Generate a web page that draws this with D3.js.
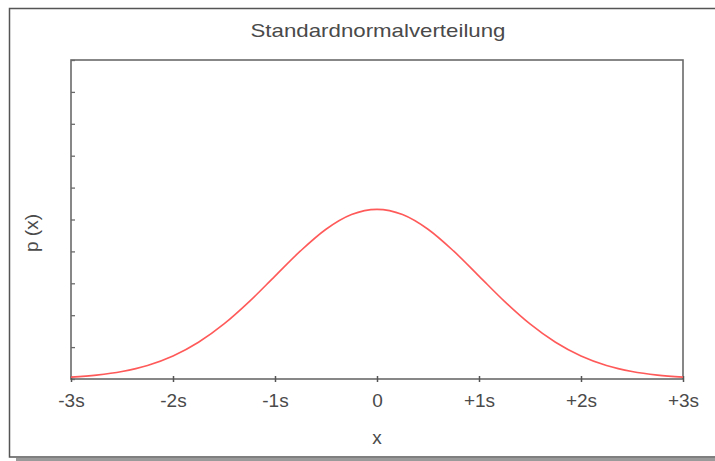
<!DOCTYPE html>
<html><head><meta charset="utf-8">
<script src="https://cdn.jsdelivr.net/npm/d3@7"></script>
<style>
html,body{margin:0;padding:0;background:#fff;}
svg{display:block;}
text{font-family:"Liberation Sans",Arial,sans-serif;fill:#4a4a4a;}
</style></head><body>
<script>
// Data (in units of s)
const xValues = [-3,-2.75,-2.5,-2.25,-2,-1.75,-1.5,-1.25,-1,-0.75,-0.5,-0.25,0,0.25,0.5,0.75,1,1.25,1.5,1.75,2,2.25,2.5,2.75,3];
const pValues = [0.0044,0.0091,0.0175,0.0317,0.0540,0.0863,0.1295,0.1826,0.2420,0.3011,0.3521,0.3867,0.3989,0.3867,0.3521,0.3011,0.2420,0.1826,0.1295,0.0863,0.0540,0.0317,0.0175,0.0091,0.0044];
const xTickValues = [-3,-2,-1,0,1,2,3];
const xTickLabels = ["-3s","-2s","-1s","0","+1s","+2s","+3s"];
const yTickValues = [0,0.075,0.15,0.225,0.3,0.375,0.45,0.525,0.6,0.675,0.75];
const title = "Standardnormalverteilung";
const xTitle = "x";
const yTitle = "p (x)";

const W = 715, H = 461;
const plot = {left:71, right:683, top:60, bottom:379};

const svg = d3.select("body").append("svg").attr("width",W).attr("height",H);

// shadow + outer frame
svg.append("rect").attr("x",16).attr("y",458).attr("width",W-16).attr("height",3).attr("fill","#9a9a9a");
svg.append("rect").attr("x",9.5).attr("y",8.5).attr("width",W+10).attr("height",448.5)
  .attr("fill","none").attr("stroke","#555").attr("stroke-width",1.5);

const x = d3.scaleLinear().domain([-3,3]).range([plot.left,plot.right]);
const y = d3.scaleLinear().domain([0,0.75]).range([plot.bottom,plot.top]);

// plot frame
svg.append("rect").attr("x",plot.left).attr("y",plot.top)
  .attr("width",plot.right-plot.left).attr("height",plot.bottom-plot.top)
  .attr("fill","none").attr("stroke","#6a6a6a").attr("stroke-width",1.6);

// y axis ticks (inward, no labels)
const yAxis = svg.append("g").attr("transform",`translate(${plot.left},0)`)
  .call(d3.axisLeft(y).tickValues(yTickValues).tickSize(-4).tickFormat(""));
yAxis.select(".domain").remove();
yAxis.selectAll(".tick line").attr("stroke","#6a6a6a").attr("stroke-width",1.3);

// x axis
const xAxis = svg.append("g").attr("transform",`translate(0,${plot.bottom})`)
  .call(d3.axisBottom(x).tickValues(xTickValues).tickSize(0).tickPadding(15)
    .tickFormat((d,i)=>xTickLabels[i]));
xAxis.select(".domain").remove();
xAxis.selectAll(".tick line").attr("y1",-3).attr("y2",3).attr("stroke","#555").attr("stroke-width",1.5);
xAxis.selectAll(".tick text").attr("font-size",19).attr("fill","#4a4a4a")
  .attr("font-family","Liberation Sans, Arial, sans-serif");

// curve
const line = d3.line().x((d,i)=>x(xValues[i])).y(d=>y(d)).curve(d3.curveMonotoneX);
svg.append("path").datum(pValues).attr("d",line)
  .attr("fill","none").attr("stroke","#ff5a5a").attr("stroke-width",1.6);

// titles
svg.append("text").attr("x",378).attr("y",37).attr("text-anchor","middle")
  .attr("font-size",19).attr("textLength",255).attr("lengthAdjust","spacingAndGlyphs").text(title);
svg.append("text").attr("x",377).attr("y",444).attr("text-anchor","middle")
  .attr("font-size",19).text(xTitle);
svg.append("text").attr("transform","translate(38,233) rotate(-90)").attr("text-anchor","middle")
  .attr("font-size",19).text(yTitle);
</script>
</body></html>
